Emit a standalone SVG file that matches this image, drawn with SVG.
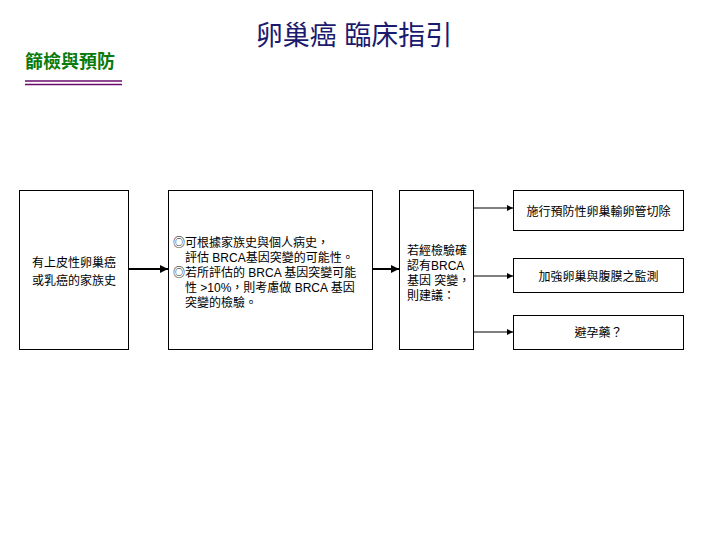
<svg xmlns="http://www.w3.org/2000/svg" width="720" height="540" viewBox="0 0 720 540">
<style>
text{font-family:"Liberation Sans","Noto Sans CJK TC",sans-serif;fill:#000}
.t{font-size:12px}
.c{text-anchor:middle}
.box{fill:#fff;stroke:#000;stroke-width:1}
.ln{stroke:#000;fill:none}
</style>
<defs>
<marker id="ah" viewBox="0 0 8 8" refX="8" refY="4" markerWidth="8" markerHeight="8" markerUnits="userSpaceOnUse" orient="auto">
<path d="M0,0 L8,4 L0,8 z" fill="#000"/>
</marker>
<marker id="ahs" viewBox="0 0 6 6" refX="6" refY="3" markerWidth="6" markerHeight="6" markerUnits="userSpaceOnUse" orient="auto">
<path d="M0,0 L6,3 L0,6 z" fill="#000"/>
</marker>
</defs>
<rect width="720" height="540" fill="#fff"/>
<text x="354" y="45" class="c" style="font-size:27px;fill:#1a1a6e">卵巢癌 臨床指引</text>
<text x="25" y="68" style="font-size:18px;font-weight:bold;fill:#0a7a0a">篩檢與預防</text>
<line x1="25" y1="81" x2="122" y2="81" stroke="#6a0a6a" stroke-width="1.5"/>
<line x1="25" y1="84.5" x2="122" y2="84.5" stroke="#6a0a6a" stroke-width="1.5"/>
<g id="connectors">
<line class="ln" x1="128" y1="269" x2="168" y2="269" stroke-width="2" marker-end="url(#ah)"/>
<line class="ln" x1="372" y1="269" x2="399" y2="269" stroke-width="2" marker-end="url(#ah)"/>
<line class="ln" x1="474" y1="208" x2="513" y2="208" stroke-width="1" marker-end="url(#ahs)"/>
<line class="ln" x1="474" y1="276" x2="513" y2="276" stroke-width="1" marker-end="url(#ahs)"/>
<line class="ln" x1="474" y1="332" x2="513" y2="332" stroke-width="1" marker-end="url(#ahs)"/>
</g>
<g id="n1">
<rect class="box" x="19.5" y="190.5" width="109" height="159"/>
<text class="t c" x="74" y="267">有上皮性卵巢癌</text>
<text class="t c" x="74" y="285">或乳癌的家族史</text>
</g>
<g id="n2">
<rect class="box" x="168.5" y="190.5" width="204" height="159"/>
<text class="t" x="173" y="247">◎可根據家族史與個人病史，</text>
<text class="t" x="185" y="262">評估 BRCA基因突變的可能性。</text>
<text class="t" x="173" y="277">◎若所評估的 BRCA 基因突變可能</text>
<text class="t" x="185" y="292">性 &gt;10%，則考慮做 BRCA 基因</text>
<text class="t" x="185" y="307">突變的檢驗。</text>
</g>
<g id="n3">
<rect class="box" x="399.5" y="190.5" width="74" height="159"/>
<text class="t" x="407" y="255">若經檢驗確</text>
<text class="t" x="407" y="270">認有BRCA</text>
<text class="t" x="407" y="285">基因 突變，</text>
<text class="t" x="407" y="300">則建議：</text>
</g>
<g id="n4">
<rect class="box" x="513.5" y="190.5" width="170" height="40"/>
<text class="t c" x="598.5" y="216">施行預防性卵巢輸卵管切除</text>
</g>
<g id="n5">
<rect class="box" x="513.5" y="258.5" width="170" height="34"/>
<text class="t c" x="598.5" y="281">加強卵巢與腹膜之監測</text>
</g>
<g id="n6">
<rect class="box" x="513.5" y="315.5" width="170" height="34"/>
<text class="t c" x="598.5" y="337">避孕藥？</text>
</g>
</svg>
